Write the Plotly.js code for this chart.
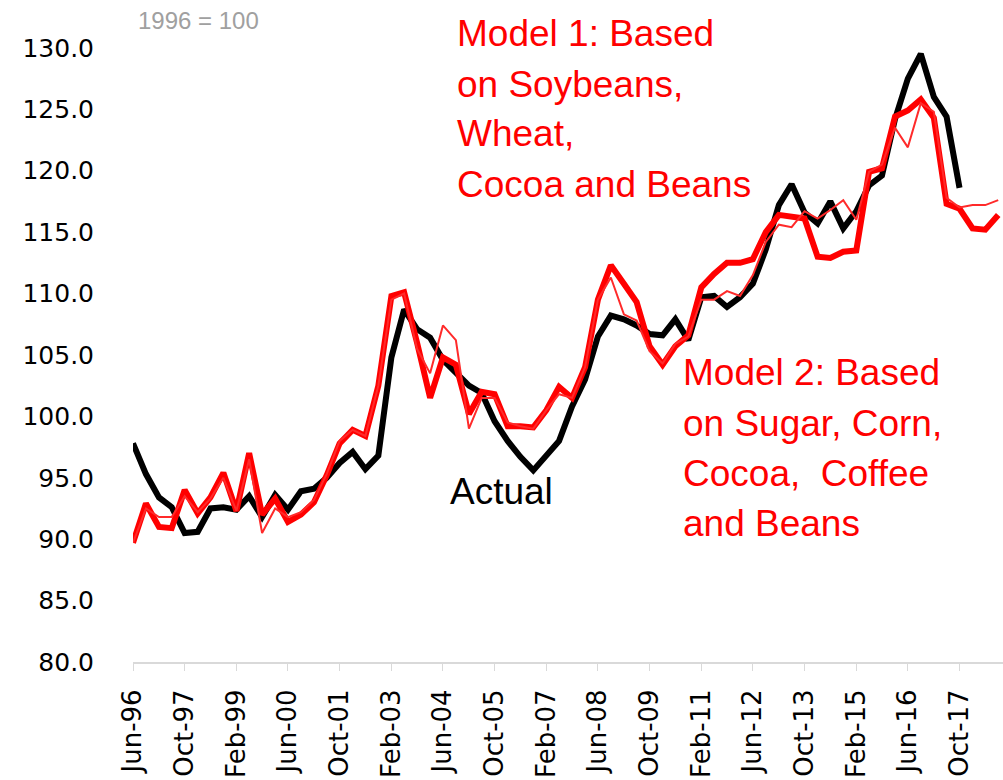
<!DOCTYPE html>
<html>
<head>
<meta charset="utf-8">
<script src="https://cdn.plot.ly/plotly-3.0.1.min.js"></script>
<style>html,body{margin:0;padding:0;background:#fff;}#chart{width:1003px;height:780px;}</style>
</head>
<body>
<div id="chart"></div>
<script>
// Dates (every 4 months, Jun-96 .. Oct-18)
var dates = [
 "1996-06-01","1996-10-01","1997-02-01","1997-06-01","1997-10-01","1998-02-01","1998-06-01","1998-10-01",
 "1999-02-01","1999-06-01","1999-10-01","2000-02-01","2000-06-01","2000-10-01","2001-02-01","2001-06-01",
 "2001-10-01","2002-02-01","2002-06-01","2002-10-01","2003-02-01","2003-06-01","2003-10-01","2004-02-01",
 "2004-06-01","2004-10-01","2005-02-01","2005-06-01","2005-10-01","2006-02-01","2006-06-01","2006-10-01",
 "2007-02-01","2007-06-01","2007-10-01","2008-02-01","2008-06-01","2008-10-01","2009-02-01","2009-06-01",
 "2009-10-01","2010-02-01","2010-06-01","2010-10-01","2011-02-01","2011-06-01","2011-10-01","2012-02-01",
 "2012-06-01","2012-10-01","2013-02-01","2013-06-01","2013-10-01","2014-02-01","2014-06-01","2014-10-01",
 "2015-02-01","2015-06-01","2015-10-01","2016-02-01","2016-06-01","2016-10-01","2017-02-01","2017-06-01",
 "2017-10-01","2018-02-01","2018-06-01","2018-10-01"
];

var actual = [
 97.8,95.3,93.4,92.6,90.5,90.6,92.5,92.6,
 92.4,93.5,91.8,93.6,92.4,93.9,94.1,95.0,
 96.2,97.1,95.7,96.8,104.8,108.7,107.1,106.4,
 104.6,103.6,102.5,101.9,99.6,98.0,96.7,95.6,
 96.8,98.0,100.8,103.0,106.5,108.2,107.9,107.4,
 106.7,106.6,107.9,106.2,109.7,109.8,108.9,109.7,
 110.8,113.6,117.2,118.9,116.6,115.7,117.5,115.3,
 116.7,118.8,119.6,124.2,127.5,129.5,126.0,124.4,
 118.6,null,null,null
];

var model1 = [
 89.7,92.9,91.0,90.9,94.0,92.1,93.4,95.4,
 92.3,97.0,92.0,93.3,91.4,92.0,93.0,95.2,
 97.8,98.9,98.4,102.5,109.8,110.1,106.0,101.5,
 104.8,104.2,100.2,102.0,101.8,99.2,99.2,99.1,
 100.5,102.4,101.5,104.0,109.5,112.3,110.8,109.3,
 105.7,104.2,105.7,106.6,110.5,111.6,112.5,112.5,
 112.8,115.0,116.4,116.3,116.1,113.0,112.9,113.4,
 113.5,119.9,120.2,124.4,124.9,125.8,124.3,117.3,
 116.9,115.3,115.2,116.4
];

var model2 = [
 89.7,92.5,91.8,91.8,93.5,92.2,93.3,95.0,
 92.3,96.5,90.5,92.5,91.8,92.2,93.2,95.3,
 98.0,98.9,98.4,102.5,109.5,110.0,105.5,103.5,
 107.4,106.2,99.0,101.5,101.5,99.5,99.2,99.0,
 100.5,101.8,101.5,104.0,109.5,111.3,108.3,107.8,
 105.3,104.3,105.9,106.5,109.5,109.5,110.2,109.8,
 111.5,114.2,115.6,115.4,116.7,116.1,116.8,117.6,
 116.0,119.9,120.5,123.5,121.9,125.5,124.8,117.8,
 117.0,117.2,117.2,117.6
];

var tickDates = ["1996-06-01","1997-10-01","1999-02-01","2000-06-01","2001-10-01","2003-02-01","2004-06-01",
 "2005-10-01","2007-02-01","2008-06-01","2009-10-01","2011-02-01","2012-06-01","2013-10-01","2015-02-01",
 "2016-06-01","2017-10-01"];
var tickLabels = ["Jun-96","Oct-97","Feb-99","Jun-00","Oct-01","Feb-03","Jun-04","Oct-05","Feb-07","Jun-08",
 "Oct-09","Feb-11","Jun-12","Oct-13","Feb-15","Jun-16","Oct-17"];
var yTicks = [80,85,90,95,100,105,110,115,120,125,130];

var model1Label = ["Model 1: Based","on Soybeans,","Wheat,","Cocoa and Beans"];
var model2Label = ["Model 2: Based","on Sugar, Corn,","Cocoa,  Coffee","and Beans"];

// layout geometry (pixels)
var W = 1003, H = 780, L = 133, R = 0, T = 11, B = 118;
var PW = W - L - R, PH = H - T - B;
function px(x){ return (x - L) / PW; }
function py(y){ return (H - B - y) / PH; }

var traces = [
 {x: dates, y: actual, type: 'scatter', mode: 'lines', name: 'Actual',
  line: {color: '#000000', width: 6}},
 {x: dates, y: model1, type: 'scatter', mode: 'lines', name: 'Model 1',
  line: {color: '#ff0000', width: 6}},
 {x: dates, y: model2, type: 'scatter', mode: 'lines', name: 'Model 2',
  line: {color: '#ff2a2a', width: 2}}
];

var annFont = {family: 'Liberation Sans, Arial, sans-serif', size: 37, color: '#ff0000'};
var annotations = [];
var m1y = [33, 84, 134, 184];
model1Label.forEach(function(t, i){
  annotations.push({xref: 'paper', yref: 'paper', x: px(455), y: py(m1y[i]), xanchor: 'left', yanchor: 'middle',
    text: t, showarrow: false, font: annFont});
});
var m2y = [372, 423, 473, 523];
model2Label.forEach(function(t, i){
  annotations.push({xref: 'paper', yref: 'paper', x: px(681), y: py(m2y[i]), xanchor: 'left', yanchor: 'middle',
    text: t, showarrow: false, font: annFont});
});
annotations.push({xref: 'paper', yref: 'paper', x: px(448), y: py(491), xanchor: 'left', yanchor: 'middle',
  text: 'Actual', showarrow: false, font: {family: 'Liberation Sans, Arial, sans-serif', size: 37, color: '#000000'}});
annotations.push({xref: 'paper', yref: 'paper', x: px(136), y: py(21), xanchor: 'left', yanchor: 'middle',
  text: '1996 = 100', showarrow: false, font: {family: 'Liberation Sans, Arial, sans-serif', size: 24, color: '#a0a0a0'}});

var layout = {
  width: W, height: H, autosize: false,
  margin: {l: L, r: R, t: T, b: B, pad: 0},
  paper_bgcolor: '#ffffff', plot_bgcolor: '#ffffff',
  showlegend: false,
  xaxis: {
    type: 'date', range: ['1996-06-01', '2018-11-15'],
    tickmode: 'array', tickvals: tickDates, ticktext: tickLabels,
    tickangle: -90, ticks: 'outside', ticklen: 7, tickwidth: 1, tickcolor: '#d9d9d9',
    showline: true, linecolor: '#d9d9d9', linewidth: 2,
    showgrid: false, zeroline: false,
    ticklabelstandoff: 8,
    tickfont: {family: 'DejaVu Sans, sans-serif', size: 26, color: '#000000'}
  },
  yaxis: {
    range: [80, 133], tickmode: 'array', tickvals: yTicks, tickformat: '.1f',
    showline: false, showgrid: false, zeroline: false, ticks: '',
    ticklabelstandoff: 38,
    tickfont: {family: 'DejaVu Sans, sans-serif', size: 25, color: '#000000'}
  },
  annotations: annotations
};

Plotly.newPlot('chart', traces, layout, {displayModeBar: false, staticPlot: true});
</script>
</body>
</html>
